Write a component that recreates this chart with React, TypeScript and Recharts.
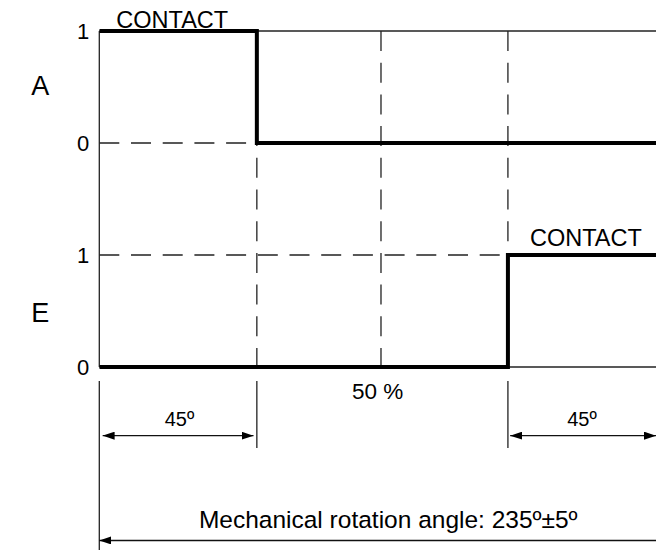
import { LineChart, Line, XAxis, YAxis, ReferenceLine, ReferenceDot } from "recharts";

// schematic travel positions (% of drawn width), not to scale
const A_POS = [0, 28.3, 100];
const A_LEVEL = [1, 0, 0];
const E_POS = [0, 73.4, 100];
const E_LEVEL = [0, 1, 1];
const DIVISIONS = [28.3, 50.6, 73.4];
const LEVEL_LABELS = ["0", "1", "0", "1"];

const LANE_A = 2;
const LANE_E = 0;

const aData = A_POS.map((pos, i) => ({ pos, v: A_LEVEL[i] + LANE_A }));
const eData = E_POS.map((pos, i) => ({ pos, v: E_LEVEL[i] + LANE_E }));

const THIN = "#222";
const DASH = "20 11.7";

const arrow = (start: boolean, end: boolean) => (p: any) => (
  <line
    x1={p.x1}
    y1={p.y1}
    x2={p.x2}
    y2={p.y2}
    stroke="#111"
    strokeWidth={1.3}
    markerStart={start ? "url(#arrowHead)" : undefined}
    markerEnd={end ? "url(#arrowHead)" : undefined}
  />
);

const notes = [
  { x: 13.1, y: 3.1, text: "CONTACT", size: 23.5 },
  { x: 87.4, y: 1.152, text: "CONTACT", size: 23.5 },
  { x: 14.4, y: -0.464, text: "45º", size: 20 },
  { x: 86.7, y: -0.464, text: "45º", size: 20 },
  { x: 50, y: -0.217, text: "50 %", size: 22.5 },
  { x: 51.9, y: -1.357, text: "Mechanical rotation angle: 235º±5º", size: 24.5 },
  { x: -10.6, y: 2.51, text: "A", size: 27 },
  { x: -10.6, y: 0.49, text: "E", size: 27 },
];

export default function App() {
  return (
    <div
      style={{
        position: "absolute",
        left: 0,
        top: 0,
        width: 656,
        height: 550,
        background: "#fff",
        overflow: "hidden",
        fontFamily: '"Liberation Sans", Arial, sans-serif',
      }}
    >
      <LineChart width={656} height={550} margin={{ top: 0, right: 0, bottom: 0, left: 0 }}>
        <defs>
          <marker
            id="arrowHead"
            viewBox="0 0 12 8"
            refX="12"
            refY="4"
            markerWidth="12"
            markerHeight="8"
            markerUnits="userSpaceOnUse"
            orient="auto-start-reverse"
          >
            <path d="M0,0 L12,4 L0,8 Z" fill="#000" />
          </marker>
        </defs>
        <XAxis type="number" dataKey="pos" domain={[0, 100]} hide allowDataOverflow />
        <YAxis
          type="number"
          domain={[-1.634, 3.277]}
          allowDataOverflow
          width={99.3}
          ticks={[0, 1, 2, 3]}
          tickFormatter={(v: number) => LEVEL_LABELS[v]}
          axisLine={false}
          tickLine={false}
          tickSize={6}
          tickMargin={4}
          tick={{ fontSize: 22, fill: "#000" }}
        />

        <ReferenceLine y={2} stroke={THIN} strokeWidth={1.3} strokeDasharray={DASH} ifOverflow="visible" />
        <ReferenceLine y={1} stroke={THIN} strokeWidth={1.3} strokeDasharray={DASH} ifOverflow="visible" />
        <ReferenceLine y={3} stroke={THIN} strokeWidth={1.3} ifOverflow="visible" />
        <ReferenceLine y={0} stroke={THIN} strokeWidth={1.3} ifOverflow="visible" />
        {DIVISIONS.map((x) => (
          <ReferenceLine
            key={"d" + x}
            segment={[{ x, y: 3 }, { x, y: 0 }]}
            stroke={THIN}
            strokeWidth={1.3}
            strokeDasharray={DASH}
            ifOverflow="visible"
          />
        ))}
        <ReferenceLine segment={[{ x: 0, y: 3 }, { x: 0, y: 0 }]} stroke={THIN} strokeWidth={1.3} ifOverflow="visible" />
        <ReferenceLine segment={[{ x: 0, y: -0.125 }, { x: 0, y: -1.634 }]} stroke={THIN} strokeWidth={1.3} ifOverflow="visible" />
        {[DIVISIONS[0], DIVISIONS[2]].map((x) => (
          <ReferenceLine
            key={"e" + x}
            segment={[{ x, y: -0.125 }, { x, y: -0.723 }]}
            stroke={THIN}
            strokeWidth={1.3}
            ifOverflow="visible"
          />
        ))}
        <ReferenceLine segment={[{ x: 0.6, y: -0.613 }, { x: 27.7, y: -0.613 }]} shape={arrow(true, true)} ifOverflow="visible" />
        <ReferenceLine segment={[{ x: 73.8, y: -0.613 }, { x: 100, y: -0.613 }]} shape={arrow(true, true)} ifOverflow="visible" />
        <ReferenceLine segment={[{ x: 0, y: -1.549 }, { x: 100, y: -1.549 }]} shape={arrow(true, false)} ifOverflow="visible" />

        <Line data={aData} dataKey="v" type="stepAfter" stroke="#000" strokeWidth={4} dot={false} isAnimationActive={false} />
        <Line data={eData} dataKey="v" type="stepAfter" stroke="#000" strokeWidth={4} dot={false} isAnimationActive={false} />

        {notes.map((n, i) => (
          <ReferenceDot
            key={i}
            x={n.x}
            y={n.y}
            r={0}
            stroke="none"
            fill="none"
            ifOverflow="visible"
            label={{ value: n.text, position: "center", fontSize: n.size, fill: "#000" }}
          />
        ))}
      </LineChart>
    </div>
  );
}
